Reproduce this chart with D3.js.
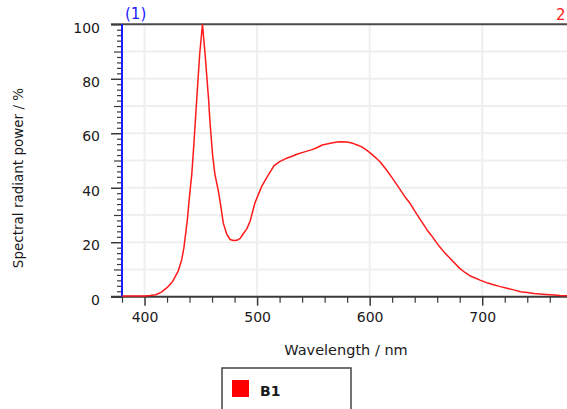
<!DOCTYPE html>
<html>
<head>
<meta charset="utf-8">
<script src="https://cdn.jsdelivr.net/npm/d3@7"></script>
<style>
html,body{margin:0;padding:0;background:#fff;overflow:hidden;}
svg{display:block;}
text{font-family:"DejaVu Sans",Verdana,sans-serif;}
</style>
</head>
<body>
<script>
// ---- data ----
const wavelengths = [380,385,390,395,400,405,410,415,420,425,430,433,435,438,440,442,444,446,449,451.5,454,457,458,460.5,462.5,465.5,467.5,470,473,476,479,482,485,488,491,494,498,504,510,515,520,526,530,536,540,548,552,558,565,571,575,580,585,589,593,597,601,606,610,615,620,627,632,636,640,645,651,655,662,667,672,680,685,690,698,705,710,716,722,728,734,740,746,751,757,764,769,775,780];
const power =       [0.3,0.3,0.3,0.3,0.3,0.4,0.7,1.7,3.3,5.6,9.5,13.5,18,28,37,45,57,70,89,100,88,72,65,52,45,39,34,27,23,21,20.6,20.7,21.4,23.3,25,28,34.3,40.4,44.7,48,49.6,50.8,51.4,52.4,52.9,53.9,54.5,55.7,56.3,56.8,56.9,56.8,56.3,55.7,55,53.9,52.6,50.8,49.2,46.5,43.6,39.4,36.3,34.2,31.5,28.3,24.5,22.4,18.4,16,13.8,10.4,8.8,7.5,6.1,5,4.4,3.7,3.1,2.5,1.8,1.5,1.2,1.0,0.8,0.6,0.4,0.35,0.3];
const xMajorTicks = [400,500,600,700];
const yMajorTicks = [0,20,40,60,80,100];
const seriesName = "B1";
const xTitle = "Wavelength / nm";
const yTitle = "Spectral radiant power / %";

const W = 567, H = 409;
const svg = d3.select("body").append("svg").attr("width", W).attr("height", H);

const x = d3.scaleLinear().domain([380, 780]).range([122, 122 + 400 * 1.1257]);
const y = d3.scaleLinear().domain([0, 100]).range([296.7, 24.3]);
const xR = x.range()[1];

// gridlines
const gridY = d3.range(10, 100, 10);
svg.append("g").selectAll("line").data(gridY).join("line")
  .attr("x1", x(380)).attr("x2", xR).attr("y1", d => y(d)).attr("y2", d => y(d))
  .attr("stroke", "#efefef").attr("stroke-width", 2);
svg.append("g").selectAll("line").data(xMajorTicks).join("line")
  .attr("x1", d => x(d)).attr("x2", d => x(d)).attr("y1", y(0)).attr("y2", y(100))
  .attr("stroke", "#efefef").attr("stroke-width", 2);

// top border
svg.append("line").attr("x1", 111).attr("x2", W).attr("y1", y(100)).attr("y2", y(100))
  .attr("stroke", "#4a4a4a").attr("stroke-width", 2);

// y axis ticks
const yMinor = d3.range(0, 101, 2).filter(d => d % 10 !== 0);
const yMid = d3.range(10, 100, 20);
function yTicks(vals, size) {
  const ax = d3.axisLeft(y).tickValues(vals).tickSize(size).tickFormat("");
  const g = svg.append("g").attr("transform", `translate(${x(380)},0)`).call(ax);
  g.select(".domain").remove();
  g.selectAll("line").attr("stroke", "#3a3a3a").attr("stroke-width", 1.2);
  return g;
}
yTicks(yMinor, 5);
yTicks(yMid, 8);
const yAx = d3.axisLeft(y).tickValues(yMajorTicks).tickSize(11).tickPadding(11).tickFormat(d3.format("d"));
const gy = svg.append("g").attr("transform", `translate(${x(380)},0)`).call(yAx);
gy.select(".domain").remove();
gy.selectAll("line").attr("stroke", "#3a3a3a").attr("stroke-width", 1.5);
gy.selectAll("text").attr("font-size", 14).attr("fill", "#1a1a1a").attr("dy", "0.55em")
  .attr("font-family", "'DejaVu Sans',Verdana,sans-serif");

// x axis
const xMinor = d3.range(380, 781, 20).filter(d => d % 100 !== 0);
const axm = d3.axisBottom(x).tickValues(xMinor).tickSize(6).tickFormat("");
const gxm = svg.append("g").attr("transform", `translate(0,${y(0)})`).call(axm);
gxm.select(".domain").remove();
gxm.selectAll("line").attr("stroke", "#3a3a3a").attr("stroke-width", 1.2);
const axM = d3.axisBottom(x).tickValues(xMajorTicks).tickSize(9).tickPadding(6).tickFormat(d3.format("d"));
const gx = svg.append("g").attr("transform", `translate(0,${y(0)})`).call(axM);
gx.select(".domain").remove();
gx.selectAll("line").attr("stroke", "#3a3a3a").attr("stroke-width", 1.5);
gx.selectAll("text").attr("font-size", 14).attr("fill", "#1a1a1a")
  .attr("font-family", "'DejaVu Sans',Verdana,sans-serif");
svg.append("line").attr("x1", 111).attr("x2", W).attr("y1", y(0)).attr("y2", y(0))
  .attr("stroke", "#3a3a3a").attr("stroke-width", 2);

// blue axis line
svg.append("line").attr("x1", x(380)).attr("x2", x(380)).attr("y1", y(100)).attr("y2", y(0))
  .attr("stroke", "#1a1aff").attr("stroke-width", 2);

// curve
const line = d3.line().x((d, i) => x(wavelengths[i])).y(d => y(d));
svg.append("path").datum(power).attr("d", line)
  .attr("fill", "none").attr("stroke", "#ff1a1a").attr("stroke-width", 1.5)
  .attr("stroke-linejoin", "round");

// top labels
svg.append("text").attr("x", 125).attr("y", 19).attr("font-size", 15).attr("fill", "#2020ff").text("(1)");
svg.append("text").attr("x", 556).attr("y", 20).attr("font-size", 15).attr("fill", "#ff2020").text("2");

// axis titles
svg.append("text").attr("x", 346).attr("y", 355).attr("text-anchor", "middle")
  .attr("font-size", 14.5).attr("fill", "#1a1a1a").text(xTitle);
svg.append("text").attr("transform", "translate(23,178) rotate(-90)").attr("text-anchor", "middle")
  .attr("font-size", 13.5).attr("fill", "#1a1a1a").text(yTitle);

// legend
svg.append("rect").attr("x", 222).attr("y", 368).attr("width", 129).attr("height", 60)
  .attr("fill", "#fff").attr("stroke", "#444").attr("stroke-width", 1.5);
svg.append("rect").attr("x", 232).attr("y", 380).attr("width", 17).attr("height", 17).attr("fill", "#ff0000");
svg.append("text").attr("x", 260).attr("y", 396).attr("font-size", 14).attr("font-weight", "bold")
  .attr("fill", "#1a1a1a").text(seriesName);
</script>
</body>
</html>
